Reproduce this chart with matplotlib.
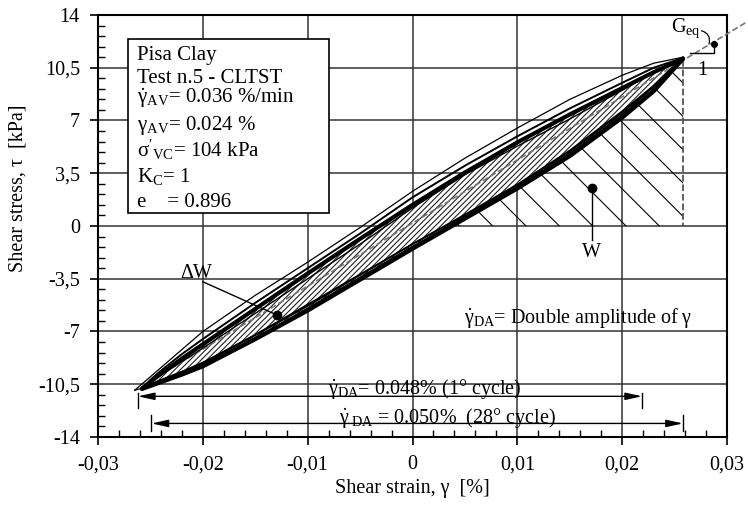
import matplotlib
matplotlib.use("Agg")
import matplotlib.pyplot as plt
from matplotlib.ticker import MultipleLocator
from matplotlib.patches import Rectangle

plt.rcParams['font.family'] = ['Liberation Serif', 'DejaVu Serif']
plt.rcParams['mathtext.fontset'] = 'stix'
plt.rcParams['mathtext.default'] = 'regular'
plt.rcParams['hatch.linewidth'] = 0.8

# ===== data =====
x_ticks = [-0.03, -0.02, -0.01, 0, 0.01, 0.02, 0.03]
x_ticklabels = ["-0,03", "-0,02", "-0,01", "0", "0,01", "0,02", "0,03"]
y_ticks = [-14, -10.5, -7, -3.5, 0, 3.5, 7, 10.5, 14]
y_ticklabels = ["-14", "-10,5", "-7", "-3,5", "0", "3,5", "7", "10,5", "14"]

# first cycle (thin outer loop)
c1_x = [-0.0265, -0.025, -0.024, -0.022, -0.02, -0.015, -0.01, -0.005, 0, 0.005, 0.01, 0.015, 0.02, 0.023, 0.0258]
c1_up_y = [-10.9, -10.0, -9.4, -8.2, -7.0, -4.6, -2.4, -0.1, 2.3, 4.5, 6.5, 8.4, 10.0, 10.8, 11.2]
c1_lo_y = [-10.9, -10.6, -10.4, -9.9, -9.35, -7.45, -5.45, -3.4, -1.35, 0.6, 2.6, 4.8, 7.4, 9.2, 11.2]

# intermediate cycles and 28th cycle share one strain grid
cyc_x = [-0.0258, -0.025, -0.024, -0.022, -0.02, -0.015, -0.01, -0.005, 0, 0.005, 0.01, 0.015, 0.02, 0.023, 0.0258]
cm1_up_y = [-10.8, -10.2, -9.6, -8.5, -7.5, -5.1, -2.8, -0.5, 1.9, 4.0, 5.95, 7.8, 9.5, 10.5, 11.15]
cm1_lo_y = [-10.8, -10.55, -10.25, -9.7, -9.1, -7.25, -5.3, -3.25, -1.2, 0.75, 2.75, 5.0, 7.6, 9.3, 11.15]
cm2_up_y = [-10.7, -10.3, -9.9, -9.0, -8.1, -5.8, -3.5, -1.2, 1.2, 3.4, 5.3, 7.1, 9.0, 10.2, 11.0]
cm2_lo_y = [-10.7, -10.5, -10.2, -9.65, -9.05, -7.2, -5.2, -3.2, -1.2, 0.7, 2.7, 4.9, 7.5, 9.25, 11.0]
c28_up_y = [-10.8, -10.35, -9.8, -8.8, -7.85, -5.5, -3.15, -0.85, 1.4, 3.55, 5.55, 7.4, 9.15, 10.2, 11.1]
c28_lo_y = [-10.8, -10.6, -10.35, -9.85, -9.3, -7.5, -5.6, -3.55, -1.5, 0.5, 2.5, 4.65, 7.2, 8.95, 11.1]

# W triangle and secant (G_eq)
w_x = [0, 0.0258, 0.0258]
w_y = [0, 11.0, 0]
sec_x = [-0.0258, 0.0318]
sec_y = [-10.6, 13.5]

# double amplitude markers
da1_x = [-0.0262, 0.0219]
da1_y = -11.3
da28_x = [-0.0249, 0.0258]
da28_y = -13.1

box_lines = ["Pisa Clay", "Test n.5 - CLTST", r"$\dot{\gamma}_{AV}$= 0.036 %/min",
             r"$\gamma_{AV}$= 0.024 %", r"$\sigma'_{VC}$= 104 kPa", r"K$_{C}$= 1",
             "e    = 0.896"]

# ===== plot =====
fig = plt.figure(figsize=(7.48, 5.18), dpi=100)
ax = fig.add_axes([98 / 748, 1 - 437 / 518, 629 / 748, 422 / 518])
ax.set_xlim(-0.03, 0.03)
ax.set_ylim(-14, 14)

ax.set_xticks(x_ticks)
ax.set_xticklabels(x_ticklabels, fontsize=14.5)
ax.set_yticks(y_ticks)
ax.set_yticklabels(y_ticklabels, fontsize=14.5)
ax.xaxis.set_minor_locator(MultipleLocator(0.002))
ax.yaxis.set_minor_locator(MultipleLocator(0.7))
ax.tick_params(which='major', direction='out', length=6, width=1.2, pad=7)
ax.tick_params(which='minor', direction='in', length=5, width=1.0)
ax.grid(True, which='major', color='#333333', lw=1.1)
ax.set_axisbelow(True)
for s in ax.spines.values():
    s.set_linewidth(1.5)

ax.set_xlabel("Shear strain, γ  [%]", fontsize=14.5)
ax.set_ylabel("Shear stress, τ  [kPa]", fontsize=14.5)
ax.xaxis.set_label_coords(0.5, -0.1)
ax.yaxis.set_label_coords(-0.112, 0.59)

# W area
ax.fill(w_x, w_y, facecolor='none', edgecolor='black', hatch='\\', lw=0, zorder=2)
ax.plot([w_x[1], w_x[2]], [w_y[1], w_y[2]], color='#555555', ls='--', lw=1.3, zorder=3)

# delta W area (loop)
ax.fill(cyc_x + cyc_x[::-1], c28_up_y + c28_lo_y[::-1], facecolor='white',
        edgecolor='#222222', hatch='//////', lw=0, zorder=3)

ax.plot(sec_x, sec_y, color='#777777', ls='--', lw=1.2, zorder=4, clip_on=False)

ax.plot(c1_x, c1_up_y, color='black', lw=0.9, zorder=5)
ax.plot(c1_x, c1_lo_y, color='black', lw=0.9, zorder=5)
ax.plot(cyc_x, cm1_up_y, color='black', lw=1.4, zorder=5)
ax.plot(cyc_x, cm1_lo_y, color='black', lw=1.4, zorder=5)
ax.plot(cyc_x, cm2_up_y, color='black', lw=1.0, zorder=5)
ax.plot(cyc_x, cm2_lo_y, color='black', lw=1.0, zorder=5)
ax.plot(cyc_x, c28_up_y, color='black', lw=3.0, zorder=6, solid_capstyle='round')
ax.plot(cyc_x, c28_lo_y, color='black', lw=3.2, zorder=6, solid_capstyle='round')

# G_eq triangle
ax.plot([0.0265, 0.0288, 0.0288], [11.45, 11.45, 12.2], color='black', lw=1.0,
        zorder=6, clip_on=False)
ax.plot([0.0288], [12.1], 'o', color='black', ms=4, zorder=7, clip_on=False)
ax.text(0.0247, 13.1, r"G$_{eq}$", fontsize=14.5, va='center', ha='left', zorder=7)
ax.text(0.0276, 10.35, "1", fontsize=14.5, va='center', ha='center', zorder=7)
ax.annotate("", xy=(0.0282, 11.9), xytext=(0.0273, 13.0),
            arrowprops=dict(arrowstyle='-', lw=0.9, connectionstyle='arc3,rad=-0.6'),
            annotation_clip=False)

# labels W and delta W
ax.plot([0.0171], [2.5], 'o', color='black', ms=6, zorder=7)
ax.plot([0.0171, 0.0171], [2.5, -0.9], color='black', lw=1.0, zorder=7)
ax.text(0.0171, -1.75, "W", fontsize=14.5, ha='center', va='center', zorder=7)
ax.plot([-0.01295], [-5.9], 'o', color='black', ms=6, zorder=7)
ax.plot([-0.0200, -0.01295], [-3.7, -5.9], color='black', lw=1.0, zorder=7)
ax.text(-0.0206, -3.15, "ΔW", fontsize=14.5, ha='center', va='center', zorder=7)

ax.text(0.0049, -6.1, r"$\dot{\gamma}_{DA}$= Double amplitude of γ", fontsize=14.5,
        ha='left', va='center', zorder=7)

# double amplitude arrows
for xs, yy, dy in [(da1_x, da1_y, (0.25, -0.8)), (da28_x, da28_y, (0.55, -0.5))]:
    ax.annotate("", xy=(xs[0], yy), xytext=(xs[1], yy),
                arrowprops=dict(arrowstyle='<|-|>,head_length=1.0,head_width=0.22',
                                color='black', lw=1.0, shrinkA=0, shrinkB=0), zorder=7)
    for xv in xs:
        ax.plot([xv, xv], [yy + dy[0], yy + dy[1]], color='black', lw=1.0, zorder=7)
ax.text(0.0012, -10.8, r"$\dot{\gamma}_{DA}$= 0.048% (1° cycle)", fontsize=14.5,
        ha='center', va='center', zorder=7)
ax.text(0.0033, -12.75, r"$\dot{\gamma}_{\ DA}$ = 0.050%  (28° cycle)", fontsize=14.5,
        ha='center', va='center', zorder=7)

# info box
ax.add_patch(Rectangle((-0.02714, 0.86), 0.01914, 11.55, facecolor='white',
                       edgecolor='black', lw=1.2, zorder=8))
box_y = [11.01, 9.49, 8.16, 6.37, 4.58, 2.92, 1.26]
for line, yb in zip(box_lines, box_y):
    ax.text(-0.02629, yb, line, fontsize=15, ha='left', va='baseline', zorder=9)

fig.savefig("out.png", dpi=100)
